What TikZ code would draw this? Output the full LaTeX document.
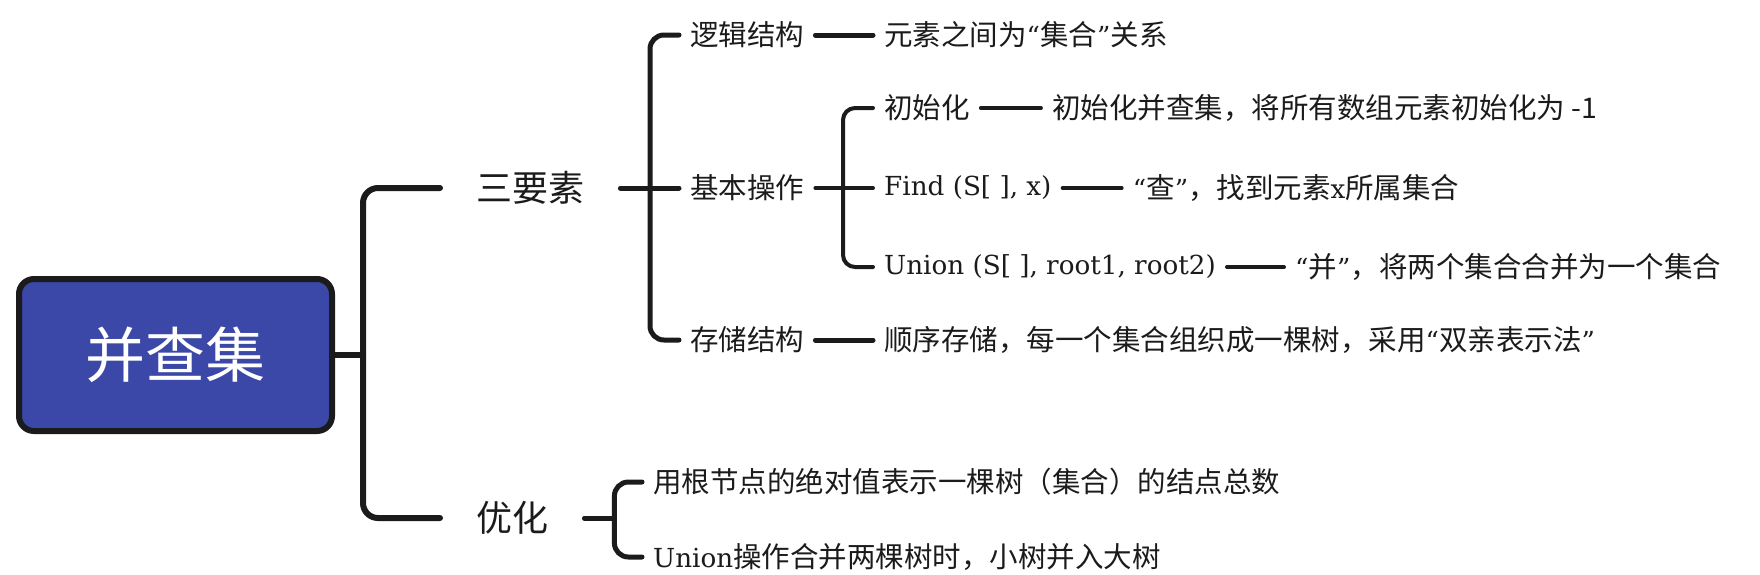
\documentclass[tikz,border=0pt]{standalone}
\usepackage{fontspec}
\setmainfont{Noto Sans CJK SC}
\newfontfamily\latin[Scale=0.92]{DejaVu Serif}
\usetikzlibrary{positioning}

\definecolor{rootblue}{HTML}{3C48A8}
\definecolor{ink}{HTML}{1B1B1B}

\tikzstyle{root}=[draw=ink, line width=6pt, fill=rootblue, rounded corners=15pt, minimum width=313pt, minimum height=152pt, text=white, font=\fontsize{60}{72}\selectfont]
\tikzstyle{topic}=[anchor=west, inner xsep=36pt, inner ysep=0pt, text=ink, font=\fontsize{36}{43}\selectfont]
\tikzstyle{item}=[anchor=west, inner xsep=11pt, inner ysep=0pt, text=ink, font=\fontsize{28.5}{34}\selectfont]
\tikzstyle{bigline}=[draw=ink, line width=6pt, line cap=round, rounded corners=15pt]
\tikzstyle{midline}=[draw=ink, line width=5pt, line cap=round, rounded corners=14pt]
\tikzstyle{smallline}=[draw=ink, line width=4pt, line cap=round, rounded corners=12pt]

\begin{document}
\begin{tikzpicture}[x=1pt, y=-1pt]
    \useasboundingbox (0, 0) rectangle (1760, 574);
    \node[root] (dsu) at (175.5, 355) {并查集};
    \node[topic] (three) at (440, 188) {三要素};
    \node[topic] (opt) at (440, 518) {优化};
    \node[item] (logic) at (679, 35) {逻辑结构};
    \node[item] (basic) at (679, 188) {基本操作};
    \node[item] (store) at (679, 340) {存储结构};
    \node[item] (logicdesc) at (873, 35) {元素之间为{\latin “}集合{\latin ”}关系};
    \node[item] (storedesc) at (873, 340) {顺序存储，每一个集合组织成一棵树，采用{\latin “}双亲表示法{\latin ”}};
    \node[item] (init) at (873, 108) {初始化};
    \node[item] (find) at (873, 188) {\latin Find (S[ ], x)};
    \node[item] (union) at (873, 267) {\latin Union (S[ ], root1, root2)};
    \node[item, right=60pt of init] (initdesc) {初始化并查集，将所有数组元素初始化为 -1};
    \node[item, right=59pt of find] (finddesc) {{\latin “}查{\latin ”}，找到元素{\latin x}所属集合};
    \node[item, right=57pt of union] (uniondesc) {{\latin “}并{\latin ”}，将两个集合合并为一个集合};
    \node[item] (absval) at (642, 482) {用根节点的绝对值表示一棵树（集合）的结点总数};
    \node[item] (smallbig) at (642, 557) {{\latin Union}操作合并两棵树时，小树并入大树};

    \coordinate (fork1) at ([xshift=28pt]dsu.east);
    \coordinate (fork2) at (650, 188);
    \coordinate (fork3) at (843, 188);
    \coordinate (fork4) at ([xshift=30pt]opt.east);

    \draw[bigline] (dsu.east) -- (fork1);
    \draw[bigline] (fork1) |- (three.west);
    \draw[bigline] (fork1) |- (opt.west);
    \draw[midline] (three.east) -- (basic.west);
    \draw[midline] (fork2) |- (logic.west);
    \draw[midline] (fork2) |- (store.west);
    \draw[midline] (logic.east) -- (logicdesc.west);
    \draw[midline] (store.east) -- (storedesc.west);
    \draw[smallline] (basic.east) -- (find.west);
    \draw[smallline] (fork3) |- (init.west);
    \draw[smallline] (fork3) |- (union.west);
    \draw[smallline] (init) -- (initdesc);
    \draw[smallline] (find) -- (finddesc);
    \draw[smallline] (union) -- (uniondesc);
    \draw[midline] (opt.east) -- (fork4);
    \draw[midline] (fork4) |- (absval.west);
    \draw[midline] (fork4) |- (smallbig.west);
\end{tikzpicture}
\end{document}
